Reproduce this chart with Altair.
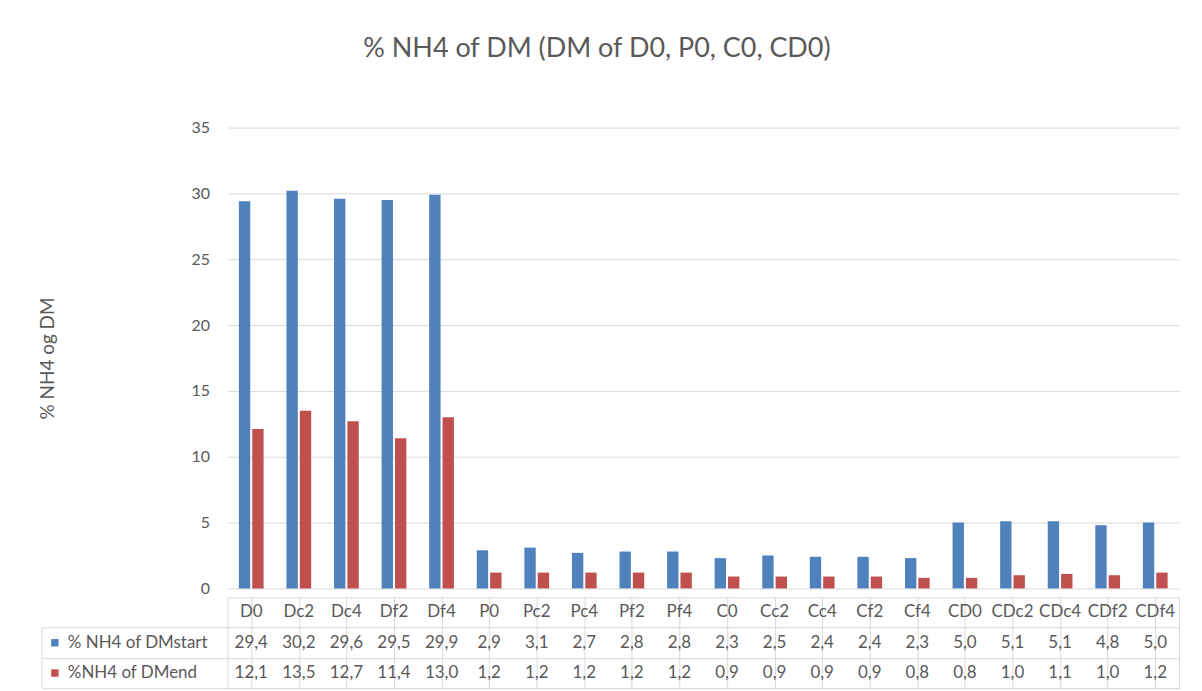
import altair as alt
import pandas as pd

categories = ["D0", "Dc2", "Dc4", "Df2", "Df4", "P0", "Pc2", "Pc4", "Pf2", "Pf4",
              "C0", "Cc2", "Cc4", "Cf2", "Cf4", "CD0", "CDc2", "CDc4", "CDf2", "CDf4"]
dm_start = [29.4, 30.2, 29.6, 29.5, 29.9, 2.9, 3.1, 2.7, 2.8, 2.8,
            2.3, 2.5, 2.4, 2.4, 2.3, 5.0, 5.1, 5.1, 4.8, 5.0]
dm_end = [12.1, 13.5, 12.7, 11.4, 13.0, 1.2, 1.2, 1.2, 1.2, 1.2,
          0.9, 0.9, 0.9, 0.9, 0.8, 0.8, 1.0, 1.1, 1.0, 1.2]
series_names = ["% NH4 of DMstart", "%NH4 of DMend"]
series_colors = ["#4f81bd", "#c0504d"]
y_ticks = [0, 5, 10, 15, 20, 25, 30, 35]
title_text = "% NH4 of DM (DM of D0, P0, C0, CD0)"
y_title = "% NH4 og DM"

FONT = "Lato"
GRAY = "#595959"
LINE = "#d9d9d9"
W = 954

rows = []
for i, c in enumerate(categories):
    rows.append({"cat": c, "series": series_names[0], "value": dm_start[i], "row": 1.5})
    rows.append({"cat": c, "series": series_names[1], "value": dm_end[i], "row": 2.5})
df = pd.DataFrame(rows)
df_cats = pd.DataFrame({"cat": categories, "row": [0.5] * len(categories)})
df_series = pd.DataFrame({"series": series_names, "row": [1.5, 2.5]})
df_left = pd.DataFrame({"y": [1], "y2": [3]})

color_scale = alt.Scale(domain=series_names, range=series_colors)

bars = alt.Chart(df).mark_bar().encode(
    x=alt.X("cat:N", sort=categories,
            scale=alt.Scale(paddingInner=0.48, paddingOuter=0.24), axis=None),
    xOffset=alt.XOffset("series:N", sort=series_names,
                        scale=alt.Scale(paddingInner=0.15, paddingOuter=0)),
    y=alt.Y("value:Q", scale=alt.Scale(domain=[0, 35], nice=False),
            axis=alt.Axis(values=y_ticks, title=y_title, grid=True, gridColor=LINE,
                          domain=False, ticks=False, labelPadding=18,
                          labelFontSize=16, labelColor=GRAY, labelFont=FONT,
                          titleFontSize=19, titleColor=GRAY, titleFont=FONT,
                          titleFontWeight="normal", titlePadding=134)),
    color=alt.Color("series:N", scale=color_scale, legend=None),
).properties(width=W, height=462, view=alt.ViewBackground(stroke=None))

x_tab = alt.X("cat:N", sort=categories, scale=alt.Scale(paddingInner=0, paddingOuter=0),
              axis=alt.Axis(grid=True, gridColor=LINE, bandPosition=0, labels=False,
                            ticks=False, domain=False, title=None))
y_tab = alt.Y("row:Q", scale=alt.Scale(domain=[0, 3], reverse=True, nice=False),
              axis=alt.Axis(values=[1, 2, 3], grid=True, gridColor=LINE, ticks=True,
                            tickSize=186, tickColor=LINE, labels=False, domain=False,
                            title=None))

header = alt.Chart(df_cats).mark_text(font=FONT, fontSize=17, color=GRAY).encode(
    x=x_tab, y=y_tab, text="cat:N")
values = alt.Chart(df).transform_calculate(
    label="replace(format(datum.value, '.1f'), '.', ',')"
).mark_text(font=FONT, fontSize=17, color=GRAY).encode(
    x=alt.X("cat:N", sort=categories), y="row:Q", text="label:N")
squares = alt.Chart(df_series).mark_square(size=55, opacity=1).encode(
    x=alt.value(-173), y="row:Q",
    color=alt.Color("series:N", scale=color_scale, legend=None))
labels = alt.Chart(df_series).mark_text(font=FONT, fontSize=17, color=GRAY, align="left").encode(
    x=alt.value(-160), y="row:Q", text="series:N")
left_rule = alt.Chart(df_left).mark_rule(color=LINE).encode(
    x=alt.value(-186), y="y:Q", y2="y2:Q")

table = alt.layer(header, values, squares, labels, left_rule).properties(
    width=W, height=91, view=alt.ViewBackground(stroke=LINE))

chart = alt.vconcat(bars, table, spacing=0).properties(
    title=alt.Title(title_text, fontSize=27, color=GRAY, font=FONT, fontWeight="normal",
                    anchor="middle", offset=57, dx=-12),
    padding={"left": 30, "top": 26, "right": 14, "bottom": 2},
).configure_view(strokeWidth=1)

chart.save("out.html", embed_options={"renderer": "svg", "actions": False})
